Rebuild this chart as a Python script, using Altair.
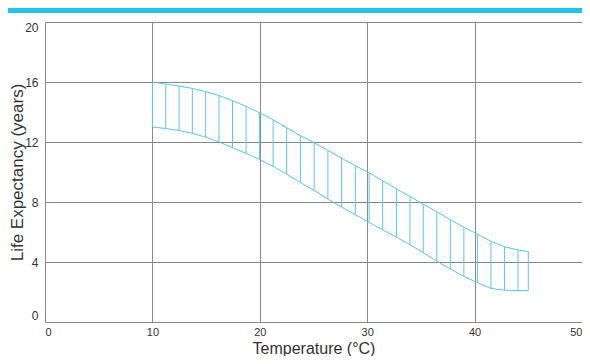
import altair as alt
import pandas as pd

# Data
temperature = [10, 11.24, 12.48, 13.72, 14.96, 16.2, 17.46, 18.72, 19.98, 21.24,
               22.5, 23.78, 25.06, 26.34, 27.62, 28.9, 30.18, 31.44, 32.72, 33.98,
               35.22, 36.48, 37.74, 39.0, 40.26, 41.52, 42.78, 44.04, 45]
upper = [16.0, 15.86, 15.73, 15.57, 15.36, 15.1, 14.75, 14.38, 13.95, 13.48,
         12.95, 12.43, 11.95, 11.44, 10.92, 10.42, 9.95, 9.42, 8.88, 8.37,
         7.85, 7.35, 6.82, 6.32, 5.86, 5.38, 5.02, 4.8, 4.7]
lower = [13.0, 12.9, 12.77, 12.58, 12.32, 12.0, 11.62, 11.24, 10.84, 10.38,
         9.86, 9.3, 8.76, 8.2, 7.66, 7.15, 6.64, 6.14, 5.66, 5.16,
         4.62, 4.06, 3.54, 3.04, 2.62, 2.24, 2.12, 2.1, 2.1]
x_ticks = [0, 10, 20, 30, 40, 50]
y_ticks = [0, 4, 8, 12, 16, 20]

df = pd.DataFrame({"t": temperature, "hi": upper, "lo": lower})

band_color = "#5bc6ef"
font = "Liberation Sans"

x_enc = alt.X("t:Q", scale=alt.Scale(domain=[0, 50], nice=False),
              axis=alt.Axis(values=x_ticks, title="Temperature (°C)", grid=True,
                            domain=False, ticks=False, labelPadding=4, labelFontSize=11,
                            titleFontSize=16, titleY=31, titleBaseline="alphabetic"))
y_scale = alt.Scale(domain=[0, 20], nice=False)

base = alt.Chart(df)

rules = base.mark_rule(color=band_color, strokeWidth=1).encode(
    x=x_enc,
    y=alt.Y("lo:Q", scale=y_scale,
            axis=alt.Axis(values=y_ticks, title="Life Expectancy (years)", grid=True,
                          domain=False, ticks=False, labelPadding=7, labelFlush=True,
                          labelFontSize=12, titleFontSize=17,
                          titleAngle=270, titleX=-23, titleY=150, titleAlign="center",
                          titleBaseline="alphabetic")),
    y2="hi:Q",
)
top_line = base.mark_line(color=band_color, strokeWidth=1).encode(x="t:Q", y="hi:Q")
bottom_line = base.mark_line(color=band_color, strokeWidth=1).encode(x="t:Q", y="lo:Q")

strip = alt.Chart(pd.DataFrame({"k": [0]})).mark_rect(color="#22c3e6").encode(
    x=alt.value(-37), x2=alt.value(545), y=alt.value(-14), y2=alt.value(-9)
)

chart = (
    alt.layer(rules, top_line, bottom_line, strip)
    .properties(width=537, height=300,
                autosize=alt.AutoSizeParams(type="none"),
                padding={"left": 37, "top": 14, "right": 0, "bottom": 34})
    .configure_view(stroke=None)
    .configure_axis(gridColor="#8a8a8a", gridOpacity=1, gridWidth=1,
                    labelFont=font, labelColor="#333333",
                    titleFont=font, titleFontWeight="normal",
                    titleColor="#333333")
)

chart.save("out.html", embed_options={"renderer": "svg", "actions": False})
